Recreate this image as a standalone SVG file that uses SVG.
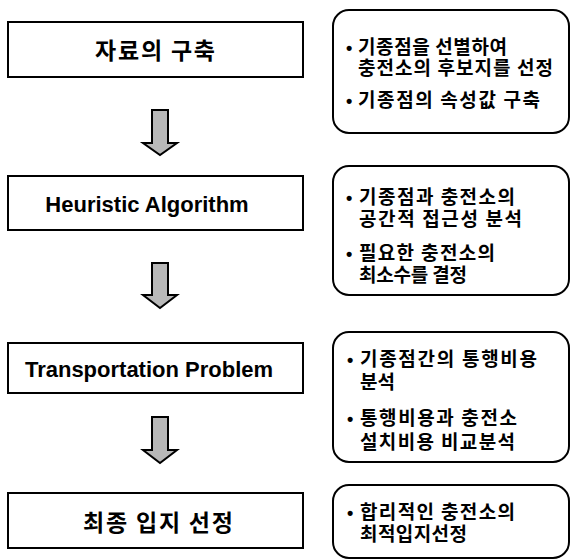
<svg xmlns="http://www.w3.org/2000/svg" width="570" height="559" viewBox="0 0 570 559">
<style>
.box{fill:#fff;stroke:#000;stroke-width:2}
.rbox{fill:#fff;stroke:#000;stroke-width:2}
.t{font-family:"Liberation Sans","Noto Sans CJK KR",sans-serif;font-weight:bold;font-size:22px;fill:#000;text-anchor:middle}
.k{font-family:"Noto Sans CJK KR","Liberation Sans",sans-serif;font-weight:bold;font-size:23px;fill:#000}
.r{font-family:"Noto Sans CJK KR","Liberation Sans",sans-serif;font-weight:bold;font-size:19px;fill:#000}
.b{font-family:"Liberation Sans",sans-serif;font-weight:bold;font-size:18px;fill:#000}
.arr{fill:#b8b8b8;stroke:#000;stroke-width:2;stroke-linejoin:miter}
</style>
<rect width="570" height="559" fill="#fff"/>
<g id="step1">
<rect class="box" x="8" y="22" width="295" height="55"/>
<text class="k" x="95" y="59" textLength="120" lengthAdjust="spacing">자료의 구축</text>
</g>
<g id="step2">
<rect class="box" x="8" y="176" width="295" height="54"/>
<text class="t" x="147" y="212">Heuristic Algorithm</text>
</g>
<g id="step3">
<rect class="box" x="8" y="343" width="295" height="50"/>
<text class="t" x="149" y="377">Transportation Problem</text>
</g>
<g id="step4">
<rect class="box" x="8" y="493" width="295" height="55"/>
<text class="k" x="83" y="531" textLength="150" lengthAdjust="spacing">최종 입지 선정</text>
</g>
<g id="note1">
<rect class="rbox" x="333" y="10" width="236" height="123" rx="16"/>
<text class="b" x="346" y="54">•</text>
<text class="r" x="358" y="54" textLength="149" lengthAdjust="spacing">기종점을 선별하여</text>
<text class="r" x="358" y="75" textLength="195" lengthAdjust="spacing">충전소의 후보지를 선정</text>
<text class="b" x="346" y="107">•</text>
<text class="r" x="358" y="107" textLength="182" lengthAdjust="spacing">기종점의 속성값 구축</text>
</g>
<g id="note2">
<rect class="rbox" x="333" y="166" width="236" height="129" rx="16"/>
<text class="b" x="346" y="204">•</text>
<text class="r" x="359" y="204" textLength="156" lengthAdjust="spacing">기종점과 충전소의</text>
<text class="r" x="359" y="226" textLength="163" lengthAdjust="spacing">공간적 접근성 분석</text>
<text class="b" x="346" y="260">•</text>
<text class="r" x="359" y="260" textLength="136" lengthAdjust="spacing">필요한 충전소의</text>
<text class="r" x="359" y="282" textLength="108" lengthAdjust="spacing">최소수를 결정</text>
</g>
<g id="note3">
<rect class="rbox" x="333" y="332" width="236" height="130" rx="16"/>
<text class="b" x="347" y="366">•</text>
<text class="r" x="360" y="366" textLength="177" lengthAdjust="spacing">기종점간의 통행비용</text>
<text class="r" x="360" y="389" textLength="35" lengthAdjust="spacing">분석</text>
<text class="b" x="347" y="425">•</text>
<text class="r" x="360" y="425" textLength="157" lengthAdjust="spacing">통행비용과 충전소</text>
<text class="r" x="360" y="449" textLength="155" lengthAdjust="spacing">설치비용 비교분석</text>
</g>
<g id="note4">
<rect class="rbox" x="333" y="485" width="236" height="73" rx="16"/>
<text class="b" x="347" y="519">•</text>
<text class="r" x="360" y="519" textLength="155" lengthAdjust="spacing">합리적인 충전소의</text>
<text class="r" x="360" y="541" textLength="107" lengthAdjust="spacing">최적입지선정</text>
</g>
<g id="connectors">
<path class="arr" d="M152,110 H168 V143 H177 L160,155 L143,143 H152 Z"/>
<path class="arr" d="M152,263 H168 V295 H177 L160,308 L143,295 H152 Z"/>
<path class="arr" d="M152,417 H168 V450 H177 L160,463 L143,450 H152 Z"/>
</g>
</svg>
